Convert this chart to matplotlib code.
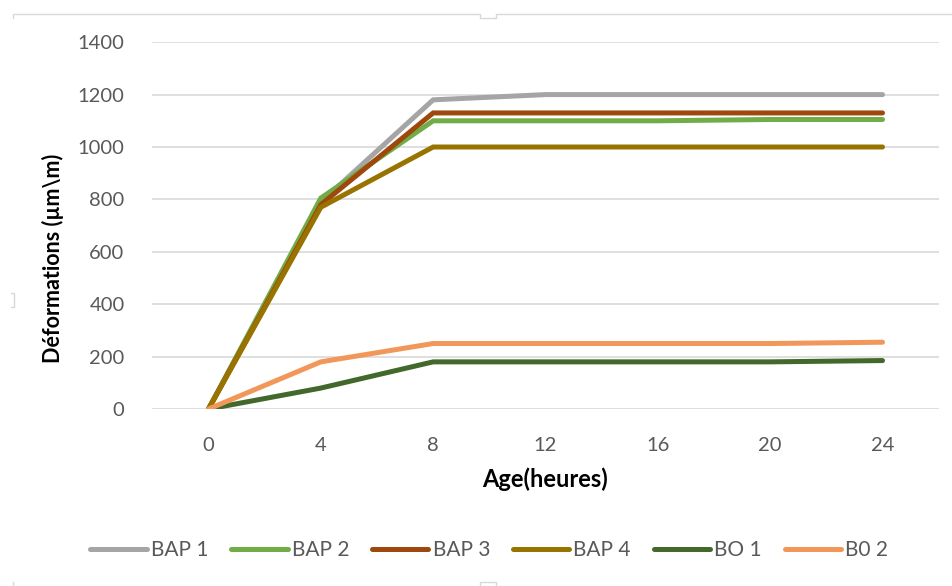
import matplotlib
matplotlib.use("Agg")
import matplotlib.pyplot as plt
from matplotlib.lines import Line2D

plt.rcParams['font.family'] = ['Lato', 'DejaVu Sans']

ages = [0, 4, 8, 12, 16, 20, 24]
bap1 = [0, 790, 1180, 1200, 1200, 1200, 1200]
bap2 = [0, 805, 1100, 1100, 1100, 1105, 1105]
bap3 = [0, 780, 1130, 1130, 1130, 1130, 1130]
bap4 = [0, 770, 1000, 1000, 1000, 1000, 1000]
bo1 = [0, 80, 180, 180, 180, 180, 185]
bo2 = [0, 180, 250, 250, 250, 250, 255]

series = [
    ("BAP 1", bap1, "#A5A5A5"),
    ("BAP 2", bap2, "#70AD47"),
    ("BAP 3", bap3, "#9E480E"),
    ("BAP 4", bap4, "#997300"),
    ("BO 1", bo1, "#43682B"),
    ("B0 2", bo2, "#F1975A"),
]

fig = plt.figure(figsize=(9.52, 5.86), dpi=100)
ax = fig.add_axes([0.160, 0.302, 0.826, 0.626])

for name, vals, col in series:
    ax.plot(ages, vals, color=col, lw=3.6, label=name,
            solid_capstyle='round', solid_joinstyle='miter')

ax.set_xlim(-2, 26)
ax.set_ylim(0, 1400)
ax.set_xticks(ages)
ax.set_yticks(range(0, 1401, 200))
ax.grid(axis='y', color='#D9D9D9', lw=1.2)
ax.set_axisbelow(True)
for s in ax.spines.values():
    s.set_visible(False)
ax.tick_params(length=0, labelsize=14.5, colors='#595959', pad=20)
ax.tick_params(axis='x', pad=20)

ax.set_ylabel("Déformations (µm\\m)", fontsize=15.5, fontweight='bold')
ax.set_xlabel("Age(heures)", fontsize=17, fontweight='bold')
ax.yaxis.set_label_coords(-0.112, 0.41)
ax.xaxis.set_label_coords(0.5, -0.158)

fig.legend(loc='center', bbox_to_anchor=(0.514, 0.061), ncol=6, frameon=False,
           fontsize=15, handlelength=2.7, handletextpad=0.2, columnspacing=1.1,
           labelcolor='#595959')

# chart frame marks
W, H = 952, 586
def fline(xs, ys):
    fig.add_artist(Line2D([x / W for x in xs], [1 - y / H for y in ys],
                          color='#D9D9D9', lw=1))
fline([13, 13, 480, 480, 496, 496, 952], [18, 14, 14, 18, 18, 14, 14])
fline([11, 14, 14, 11], [293, 293, 307, 307])
fline([13, 13], [582, 586])
fline([480, 480, 496, 496], [586, 582, 582, 586])

fig.savefig("out.png", dpi=100)
